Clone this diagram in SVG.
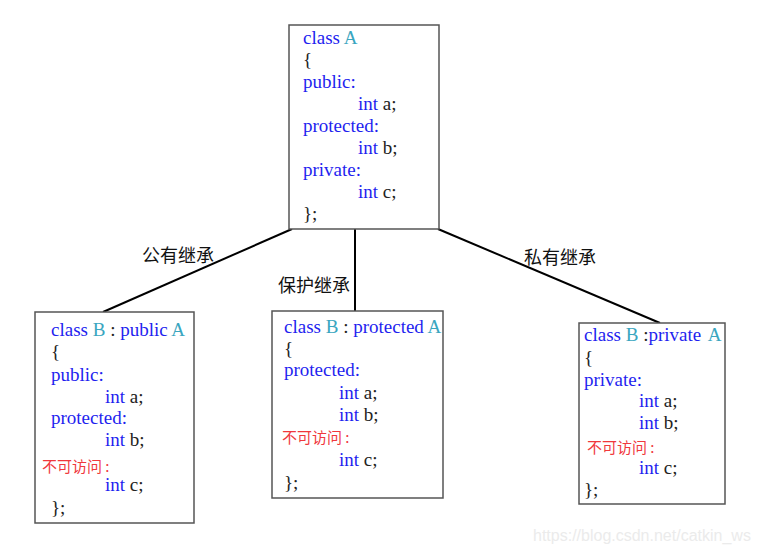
<svg xmlns="http://www.w3.org/2000/svg" width="758" height="554" viewBox="0 0 758 554">
<style>
.box{fill:#fff;stroke:#555;stroke-width:1.5}
.code{font-family:"Liberation Serif","Times New Roman",serif;font-size:19px;fill:#1f1fef}
.t{fill:#3aa6bf}
.d{fill:#222}
.red{font-family:"Noto Sans CJK SC","Liberation Sans",sans-serif;font-size:15px;fill:#f0383c}
.lbl{font-family:"Noto Sans CJK SC","Liberation Sans",sans-serif;font-size:18px;fill:#111}
.edge{stroke:#000;stroke-width:2;fill:none}
.wm{font-family:"Liberation Sans",Arial,sans-serif;font-size:16px;fill:#ebebeb}
</style>
<rect width="758" height="554" fill="#fff"/>
<g id="connectors">
<line class="edge" x1="292" y1="229" x2="103" y2="312"/>
<line class="edge" x1="355" y1="229" x2="355" y2="311"/>
<line class="edge" x1="438" y1="229" x2="660" y2="323"/>
<text class="lbl" x="178" y="262" text-anchor="middle">公有继承</text>
<text class="lbl" x="314" y="292" text-anchor="middle">保护继承</text>
<text class="lbl" x="560" y="264" text-anchor="middle">私有继承</text>
</g>
<g id="classA">
<rect class="box" x="289" y="25" width="150" height="204"/>
<text class="code" x="303" y="44">class <tspan class="t">A</tspan></text>
<text class="code d" x="303" y="66">{</text>
<text class="code" x="303" y="88">public:</text>
<text class="code" x="358" y="110">int <tspan class="d">a;</tspan></text>
<text class="code" x="303" y="132">protected:</text>
<text class="code" x="358" y="154">int <tspan class="d">b;</tspan></text>
<text class="code" x="303" y="176">private:</text>
<text class="code" x="358" y="198">int <tspan class="d">c;</tspan></text>
<text class="code d" x="303" y="220">};</text>
</g>
<g id="classB_public">
<rect class="box" x="35" y="312" width="159" height="211"/>
<text class="code" x="51" y="336">class <tspan class="t">B</tspan> <tspan class="d">:</tspan> public <tspan class="t">A</tspan></text>
<text class="code d" x="51" y="358">{</text>
<text class="code" x="51" y="381">public:</text>
<text class="code" x="105" y="403">int <tspan class="d">a;</tspan></text>
<text class="code" x="51" y="424">protected:</text>
<text class="code" x="105" y="446">int <tspan class="d">b;</tspan></text>
<text class="red" x="42" y="472">不可访问 :</text>
<text class="code" x="105" y="491">int <tspan class="d">c;</tspan></text>
<text class="code d" x="51" y="514">};</text>
</g>
<g id="classB_protected">
<rect class="box" x="272" y="311" width="171" height="187"/>
<text class="code" x="284" y="333">class <tspan class="t">B</tspan> <tspan class="d">:</tspan> protected <tspan class="t">A</tspan></text>
<text class="code d" x="284" y="355">{</text>
<text class="code" x="284" y="376">protected:</text>
<text class="code" x="339" y="399">int <tspan class="d">a;</tspan></text>
<text class="code" x="339" y="421">int <tspan class="d">b;</tspan></text>
<text class="red" x="282" y="443">不可访问 :</text>
<text class="code" x="339" y="466">int <tspan class="d">c;</tspan></text>
<text class="code d" x="284" y="489">};</text>
</g>
<g id="classB_private">
<rect class="box" x="579" y="323" width="146" height="181"/>
<text class="code" x="584" y="341">class <tspan class="t">B</tspan> <tspan class="d">:</tspan>private <tspan class="t" dx="3">A</tspan></text>
<text class="code d" x="584" y="364">{</text>
<text class="code" x="584" y="386">private:</text>
<text class="code" x="639" y="407">int <tspan class="d">a;</tspan></text>
<text class="code" x="639" y="429">int <tspan class="d">b;</tspan></text>
<text class="red" x="587" y="453">不可访问 :</text>
<text class="code" x="639" y="474">int <tspan class="d">c;</tspan></text>
<text class="code d" x="584" y="496">};</text>
</g>
<text class="wm" x="533" y="541">https://blog.csdn.net/catkin_ws</text>
</svg>
